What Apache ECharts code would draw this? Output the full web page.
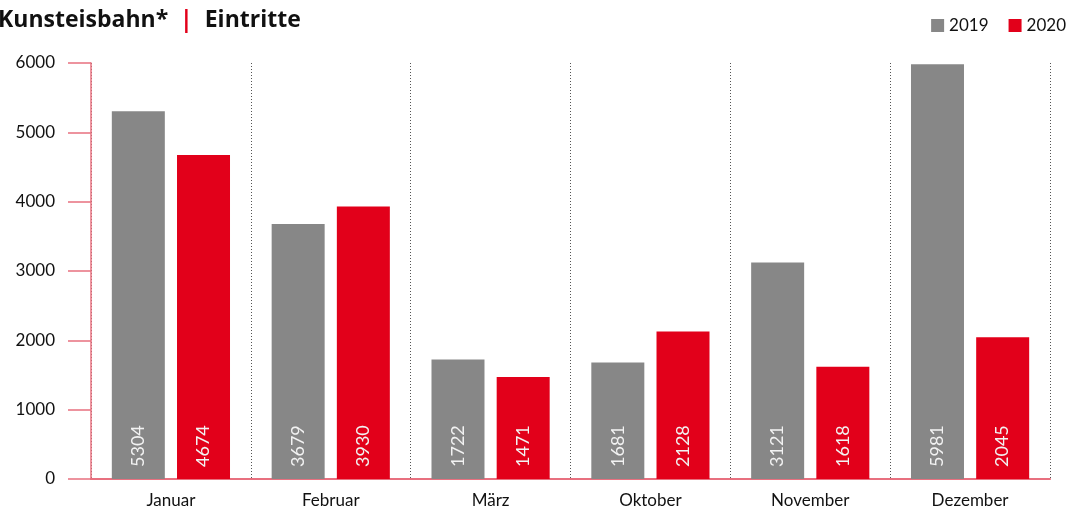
<!DOCTYPE html>
<html>
<head>
<meta charset="utf-8">
<script src="https://cdn.jsdelivr.net/npm/echarts@6/dist/echarts.min.js"></script>
<style>html,body{margin:0;padding:0;background:#fff}#c{width:1089px;height:514px}</style>
</head>
<body>
<div id="c"></div>
<script>
const categories = ['Januar', 'Februar', 'März', 'Oktober', 'November', 'Dezember'];
const values2019 = [5304, 3679, 1722, 1681, 3121, 5981];
const values2020 = [4674, 3930, 1471, 2128, 1618, 2045];
const seriesNames = ['2019', '2020'];
const yTicks = [0, 1000, 2000, 3000, 4000, 5000, 6000];

const FONT = 'Lato';
const chart = echarts.init(document.getElementById('c'));
const labelCfg = {
  show: true,
  position: 'insideBottom',
  rotate: 90,
  align: 'left',
  verticalAlign: 'middle',
  distance: 12,
  color: '#f2f2f2',
  fontSize: 18,
  fontFamily: FONT
};
chart.setOption({
  animation: false,
  title: {
    text: '{a|Kunsteisbahn*}{b|  |  }{a|Eintritte}',
    left: -7, top: 4,
    textStyle: {
      rich: {
        a: {fontSize: 23, fontWeight: 'bold', color: '#111', fontFamily: 'Open Sans'},
        b: {fontSize: 23, fontWeight: 'bold', color: '#e2001a', fontFamily: 'Open Sans'}
      }
    }
  },
  legend: {
    right: 18, top: 12,
    itemWidth: 13, itemHeight: 13, itemGap: 20,
    icon: 'rect',
    textStyle: {fontSize: 17, color: '#111', fontFamily: FONT},
    data: seriesNames
  },
  grid: {left: 91, right: 39, top: 63, bottom: 35},
  xAxis: {
    type: 'category',
    data: categories,
    axisLine: {lineStyle: {color: '#e8707f', width: 2}},
    axisTick: {show: false},
    axisLabel: {fontSize: 17, color: '#111', fontFamily: FONT, margin: 13},
    splitLine: {show: true, lineStyle: {color: '#555', type: [1, 2], width: 1}}
  },
  yAxis: {
    type: 'value',
    min: 0, max: 6000, interval: 1000,
    axisLine: {show: true, lineStyle: {color: '#e8707f', width: 1.5}},
    axisTick: {show: true, length: 23, lineStyle: {color: '#e8707f', width: 1.5}},
    axisLabel: {fontSize: 17, color: '#111', fontFamily: FONT, margin: 36,
      formatter: v => yTicks.includes(v) ? String(v) : ''},
    splitLine: {show: false}
  },
  series: [
    {name: seriesNames[0], type: 'bar', data: values2019, barWidth: 53, barGap: '23%',
     itemStyle: {color: '#878787'}, label: labelCfg},
    {name: seriesNames[1], type: 'bar', data: values2020, barWidth: 53,
     itemStyle: {color: '#e2001a'}, label: labelCfg}
  ]
});
</script>
</body>
</html>
